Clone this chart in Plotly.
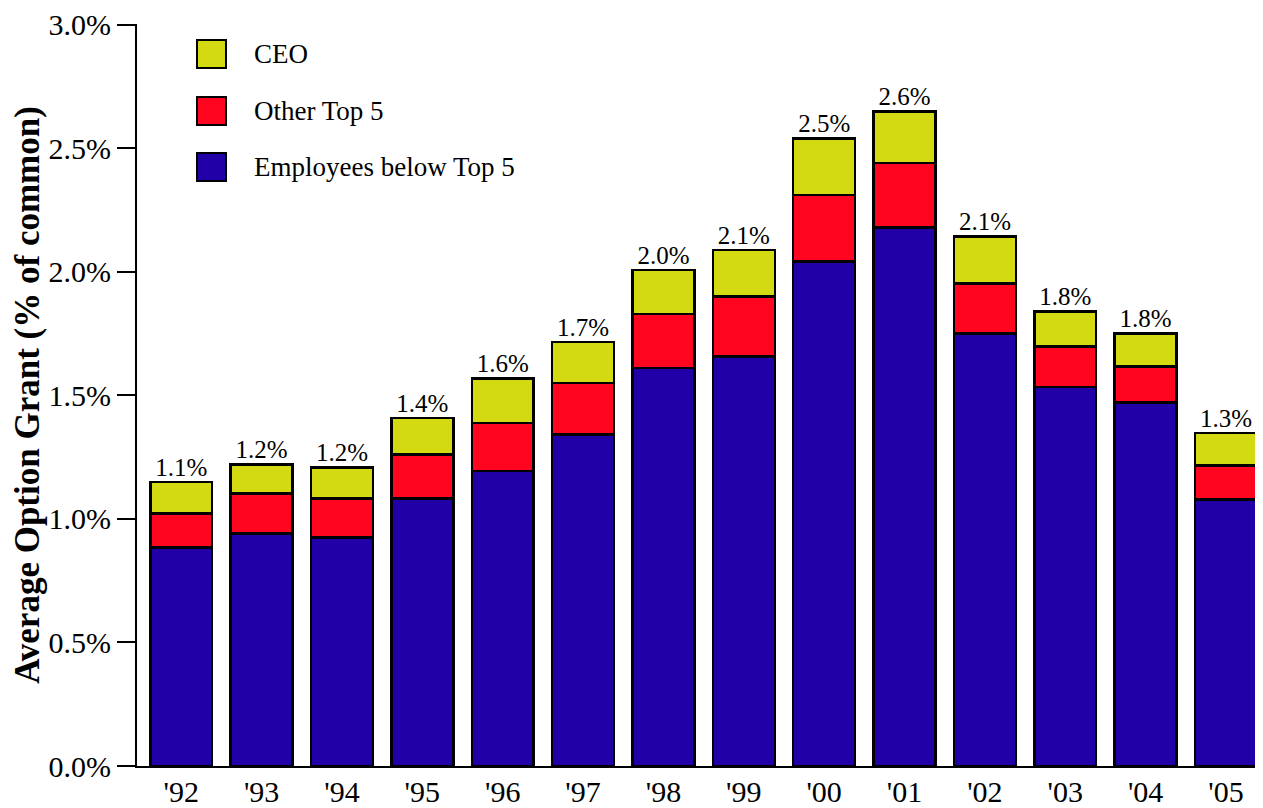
import plotly.graph_objects as go

# Datos (en % del capital común)
years = ["'92", "'93", "'94", "'95", "'96", "'97", "'98", "'99", "'00", "'01", "'02", "'03", "'04", "'05"]
employees = [0.885, 0.941, 0.925, 1.082, 1.193, 1.341, 1.611, 1.658, 2.042, 2.179, 1.751, 1.533, 1.472, 1.079]
other_top5 = [0.137, 0.162, 0.158, 0.179, 0.196, 0.209, 0.218, 0.242, 0.269, 0.261, 0.202, 0.165, 0.145, 0.137]
ceo = [0.127, 0.117, 0.125, 0.148, 0.180, 0.167, 0.179, 0.188, 0.229, 0.208, 0.190, 0.142, 0.134, 0.132]
total_labels = ["1.1%", "1.2%", "1.2%", "1.4%", "1.6%", "1.7%", "2.0%", "2.1%",
                "2.5%", "2.6%", "2.1%", "1.8%", "1.8%", "1.3%"]
y_ticks = [0.0, 0.5, 1.0, 1.5, 2.0, 2.5, 3.0]

series_names = ["Employees below Top 5", "Other Top 5", "CEO"]
series_colors = ["#2100A8", "#FF0520", "#D3DA12"]

# El body de la página tiene 8px de margen: se descuenta del tamaño de la figura
OFF = 8
W, H = 1263 - OFF, 808 - OFF
ML, MR, MT, MB = 137 - OFF, 0, 24 - OFF, 42
FONT = "Liberation Serif"

fig = go.Figure()

for name, vals, col in zip(series_names, [employees, other_top5, ceo], series_colors):
    fig.add_trace(go.Bar(
        x=years, y=vals, name=name,
        marker=dict(color=col, line=dict(color="black", width=2.5)),
        showlegend=False,
    ))

totals = [a + b + c for a, b, c in zip(employees, other_top5, ceo)]
fig.add_trace(go.Scatter(
    x=years, y=totals, mode="text", text=total_labels,
    textposition="top center",
    textfont=dict(family=FONT, size=25, color="black"),
    showlegend=False, hoverinfo="skip",
))

# Leyenda manual con cuadros grandes (píxeles de la página -> paper)
def px_x(p):
    return (p - OFF - ML) / (W - ML - MR)

def px_y(p):
    return (H - MB - (p - OFF)) / (H - MT - MB)

legend_rows = [("CEO", series_colors[2], 54), ("Other Top 5", series_colors[1], 111),
               ("Employees below Top 5", series_colors[0], 167)]
for label, col, cy in legend_rows:
    fig.add_shape(type="rect", xref="paper", yref="paper",
                  x0=px_x(197), x1=px_x(226), y0=px_y(cy + 14), y1=px_y(cy - 14),
                  fillcolor=col, line=dict(color="black", width=2))
    fig.add_annotation(xref="paper", yref="paper", x=px_x(252), y=px_y(cy),
                       text=label, showarrow=False, xanchor="left", yanchor="middle",
                       font=dict(family=FONT, size=27, color="black"))

fig.update_layout(
    barmode="stack",
    bargap=0.23,
    width=W, height=H,
    margin=dict(l=ML, r=MR, t=MT, b=MB),
    plot_bgcolor="white",
    paper_bgcolor="white",
    font=dict(family=FONT, color="black"),
)

fig.update_xaxes(
    range=[-0.55, 13.46],
    automargin=False,
    showline=True, linecolor="black", linewidth=2,
    ticks="", showgrid=False,
    ticklabelstandoff=-2,
    tickfont=dict(family=FONT, size=30, color="black"),
)

fig.update_yaxes(
    range=[0, 3.003],
    tickmode="array", tickvals=y_ticks,
    ticktext=[f"{v:.1f}%" for v in y_ticks],
    automargin=False,
    showline=True, linecolor="black", linewidth=2,
    ticks="outside", ticklen=18, tickwidth=2, tickcolor="black",
    showgrid=False, zeroline=False,
    tickfont=dict(family=FONT, size=30, color="black"),
    title=dict(text="<b>Average Option Grant (% of common)</b>",
               font=dict(family=FONT, size=35, color="black"), standoff=18),
)

fig.write_html("out.html")
